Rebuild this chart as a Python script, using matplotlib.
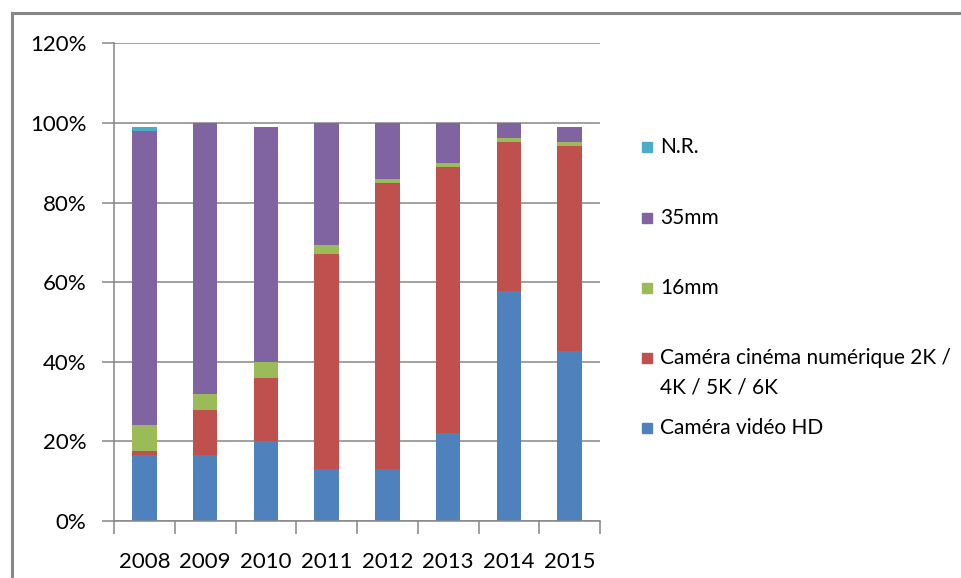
import matplotlib
matplotlib.use("Agg")
import matplotlib.pyplot as plt
from matplotlib.lines import Line2D
from matplotlib.patches import Rectangle
import numpy as np

plt.rcParams['font.family'] = ['Lato', 'DejaVu Sans']

years = ["2008", "2009", "2010", "2011", "2012", "2013", "2014", "2015"]
video_hd = [16.5, 16.5, 20.0, 13.0, 13.0, 22.0, 57.8, 42.7]
cinema_num = [1.0, 11.3, 16.0, 54.0, 72.0, 67.0, 37.4, 51.5]
mm16 = [6.5, 4.0, 4.0, 2.3, 1.0, 1.0, 1.0, 1.0]
mm35 = [74.0, 68.2, 59.0, 30.7, 14.0, 10.0, 3.8, 3.8]
nr = [1.0, 0.0, 0.0, 0.0, 0.0, 0.0, 0.0, 0.0]

series_names = ["Caméra vidéo HD", "Caméra cinéma numérique 2K /\n4K / 5K / 6K", "16mm", "35mm", "N.R."]
series_values = [video_hd, cinema_num, mm16, mm35, nr]
colors = ["#4F81BD", "#C0504D", "#9BBB59", "#8064A2", "#4BACC6"]

W, H = 961, 578
fig = plt.figure(figsize=(W / 100, H / 100), dpi=100)
ax = fig.add_axes([114 / W, (H - 521) / H, (600 - 114) / W, (521 - 43.3) / H])

x = np.arange(len(years))
bottom = np.zeros(len(years))
for name, vals, c in zip(series_names, series_values, colors):
    v = np.array(vals) / 100.0
    ax.bar(x, v, width=0.4, bottom=bottom, color=c, zorder=3)
    bottom += v

ax.set_xlim(-0.5, len(years) - 0.5)
ax.set_ylim(0, 1.2)
yt = np.arange(0, 1.21, 0.2)
ax.set_yticks(yt)
ax.set_yticklabels([f"{int(round(t * 100))}%" for t in yt])
ax.yaxis.grid(True, color="#868686", lw=1.1, zorder=0)
ax.set_xticks(x)
ax.set_xticklabels(years)
ax.set_xticks(np.arange(-0.5, len(years)), minor=True)
ax.tick_params(axis='x', which='major', length=0, pad=22, labelsize=16, colors='black')
ax.tick_params(axis='x', which='minor', length=9, width=1.1, color="#868686")
ax.tick_params(axis='y', length=9, width=1.1, color="#868686", pad=11, labelsize=16, labelcolor='black')
for s in ['top', 'right']:
    ax.spines[s].set_visible(False)
for s in ['left', 'bottom']:
    ax.spines[s].set_color("#868686")
    ax.spines[s].set_linewidth(1.1)
ax.spines['bottom'].set_zorder(4)

# outer frame
fig.add_artist(Line2D([12 / W, 1.0], [1 - 13 / H, 1 - 13 / H], color="#868686", lw=2.2, transform=fig.transFigure))
fig.add_artist(Line2D([12 / W, 12 / W], [0, 1 - 13 / H], color="#868686", lw=2.2, transform=fig.transFigure))

# legend (manual, top to bottom: N.R., 35mm, 16mm, cinema, video)
leg_y = [147, 218, 288, 358, 428]
order = [4, 3, 2, 1, 0]
for yy, idx in zip(leg_y, order):
    fig.add_artist(Rectangle((642 / W, 1 - (yy + 5) / H), 10 / W, 10 / H, color=colors[idx], transform=fig.transFigure))
    lines = series_names[idx].split("\n")
    for k, ln in enumerate(lines):
        fig.text(660 / W, 1 - (yy + k * 29) / H, ln, fontsize=15, va='center', ha='left', color='black')

fig.savefig("out.png", dpi=100)
